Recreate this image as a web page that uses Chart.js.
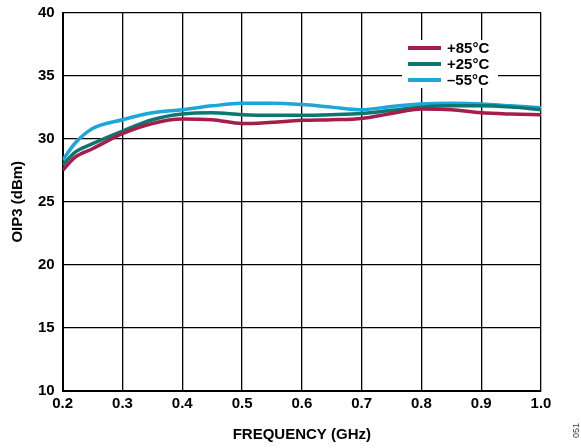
<!DOCTYPE html>
<html>
<head>
<meta charset="utf-8">
<script src="https://cdn.jsdelivr.net/npm/chart.js@4/dist/chart.umd.min.js"></script>
<style>
  html, body { margin: 0; padding: 0; background: #fff; }
  #wrap { position: relative; width: 581px; height: 448px; }
  #tag {
    position: absolute; left: 571px; top: 438px;
    font: 9px "Liberation Sans", Arial, sans-serif; color: #444;
    transform: rotate(-90deg); transform-origin: left top;
  }
</style>
</head>
<body>
<div id="wrap">
  <canvas id="myChart" width="581" height="448"></canvas>
  <div id="tag">051</div>
</div>
<script>
const freqs = [0.2, 0.22, 0.25, 0.3, 0.35, 0.4, 0.45, 0.5, 0.55, 0.6, 0.65, 0.7, 0.75, 0.8, 0.85, 0.9, 0.95, 1.0];
const hot = [27.5, 28.5, 29.2, 30.4, 31.2, 31.55, 31.5, 31.2, 31.3, 31.45, 31.5, 31.6, 32.0, 32.35, 32.3, 32.05, 31.95, 31.9];
const room = [27.9, 28.9, 29.6, 30.6, 31.5, 31.95, 32.05, 31.9, 31.85, 31.85, 31.9, 32.0, 32.25, 32.5, 32.6, 32.6, 32.5, 32.3];
const cold = [28.3, 29.6, 30.8, 31.5, 32.05, 32.3, 32.6, 32.8, 32.8, 32.7, 32.5, 32.3, 32.55, 32.75, 32.8, 32.75, 32.6, 32.45];
const seriesLabels = ['+85°C', '+25°C', '\u201355°C'];
const seriesColors = ['#a51d4b', '#0b7770', '#1ca6d9'];

const font = { family: '"Liberation Sans", Arial, sans-serif', size: 15, weight: 'bold' };

const toPoints = (vals) => freqs.map((f, i) => ({ x: f, y: vals[i] }));

// legend drawn inside the plot, on a white box
const boxLegend = {
  id: 'boxLegend',
  afterDatasetsDraw(chart) {
    const { ctx } = chart;
    const x0 = 402, y0 = 40;
    ctx.save();
    ctx.fillStyle = '#fff';
    ctx.fillRect(x0, y0, 96, 48);
    ctx.font = `bold 15px ${font.family}`;
    ctx.textBaseline = 'middle';
    chart.data.datasets.forEach((ds, i) => {
      const y = y0 + 8 + i * 16;
      ctx.strokeStyle = ds.borderColor;
      ctx.lineWidth = 4;
      ctx.beginPath();
      ctx.moveTo(x0 + 6, y);
      ctx.lineTo(x0 + 39, y);
      ctx.stroke();
      ctx.fillStyle = '#000';
      ctx.fillText(ds.label, x0 + 45, y + 1);
    });
    ctx.restore();
  },
};

new Chart(document.getElementById('myChart'), {
  type: 'line',
  data: {
    datasets: [hot, room, cold].map((vals, i) => ({
      label: seriesLabels[i],
      data: toPoints(vals),
      borderColor: seriesColors[i],
      borderWidth: 3.5,
      pointRadius: 0,
      fill: false,
      cubicInterpolationMode: 'monotone',
    })),
  },
  options: {
    responsive: false,
    animation: false,
    layout: { padding: { left: 9, right: 40, top: 11, bottom: 4 } },
    plugins: { legend: { display: false }, tooltip: { enabled: false } },
    scales: {
      x: {
        type: 'linear',
        min: 0.2,
        max: 1.0,
        ticks: { stepSize: 0.1, color: '#000', font, padding: 4, callback: (v) => v.toFixed(1), maxRotation: 0 },
        grid: { color: '#000', lineWidth: 1.3, drawTicks: false },
        border: { color: '#000', width: 2 },
        title: { display: true, text: 'FREQUENCY (GHz)', color: '#000', font, padding: { top: 9, bottom: 0 } },
      },
      y: {
        min: 10,
        max: 40,
        ticks: { stepSize: 5, color: '#000', font: { ...font, lineHeight: 0.6 }, padding: 8 },
        grid: { color: '#000', lineWidth: 1.3, drawTicks: false },
        border: { color: '#000', width: 2 },
        title: { display: true, text: 'OIP3 (dBm)', color: '#000', font, padding: { top: 0, bottom: 3 } },
      },
    },
  },
  plugins: [boxLegend],
});
</script>
</body>
</html>
